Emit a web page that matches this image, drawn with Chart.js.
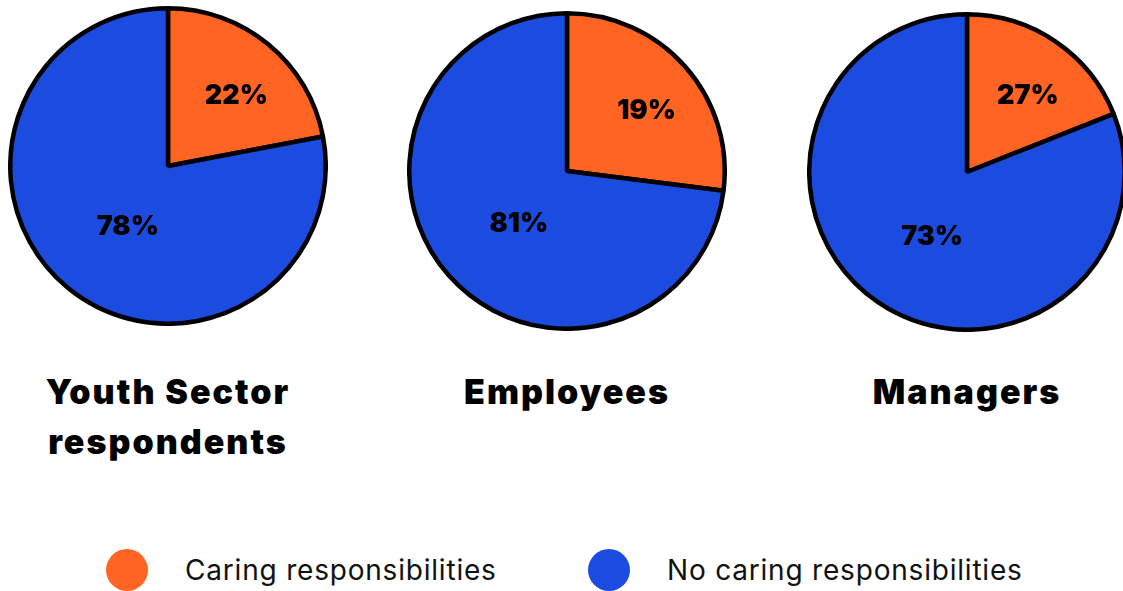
<!DOCTYPE html>
<html>
<head>
<meta charset="utf-8">
<script src="https://cdn.jsdelivr.net/npm/chart.js@4.4.1/dist/chart.umd.min.js"></script>
<style>
  body { margin: 0; width: 1123px; height: 591px; overflow: hidden; background: #fff; position: relative; font-family: Inter, "Noto Sans", sans-serif; }
  canvas.pie { position: absolute; }
  .title { position: absolute; width: 360px; text-align: center; font-weight: 900; font-size: 34px; letter-spacing: 2px; line-height: 50px; color: #000; white-space: pre-line; }
  .legend-item { position: absolute; top: 548px; height: 44px; display: flex; align-items: center; font-size: 28px; letter-spacing: 0.8px; color: #111; }
  .dot { width: 42px; height: 42px; border-radius: 50%; margin-right: 37px; }
</style>
</head>
<body>
<canvas id="pie0" class="pie" width="320" height="320" style="left:8px;top:6px"></canvas>
<canvas id="pie1" class="pie" width="320" height="320" style="left:407px;top:11px"></canvas>
<canvas id="pie2" class="pie" width="320" height="320" style="left:807px;top:12px"></canvas>
<div id="titles"></div>
<div id="legend"></div>
<script>
// Kategorien und Gruppen
const groups = ['Youth Sector\nrespondents', 'Employees', 'Managers'];
const categories = ['Caring responsibilities', 'No caring responsibilities'];
const colors = ['#ff6422', '#1c4be0'];

// Segmentgrößen, so wie sie im Bild gezeichnet sind
const youthShares = [22, 78];
const employeesShares = [27, 73];
const managersShares = [19, 81];

// Beschriftungen, so wie sie im Bild stehen
const youthLabels = ['22%', '78%'];
const employeesLabels = ['19%', '81%'];
const managersLabels = ['27%', '73%'];

const allShares = [youthShares, employeesShares, managersShares];
const allLabels = [youthLabels, employeesLabels, managersLabels];
const centersX = [168, 567, 967];

// Plugin für die Prozentwerte in den Segmenten
const sliceLabels = {
    id: 'sliceLabels',
    afterDatasetsDraw(chart, args, opts) {
        const ctx = chart.ctx;
        const meta = chart.getDatasetMeta(0);
        const factors = [0.63, 0.45];
        ctx.save();
        ctx.font = '900 27px Inter';
        ctx.fillStyle = '#000';
        ctx.textAlign = 'center';
        ctx.textBaseline = 'middle';
        meta.data.forEach((arc, i) => {
            const p = arc.getProps(['x', 'y', 'startAngle', 'endAngle', 'outerRadius'], true);
            const mid = (p.startAngle + p.endAngle) / 2;
            const r = p.outerRadius * factors[i];
            ctx.fillText(opts.texts[i], p.x + Math.cos(mid) * r + 5, p.y + Math.sin(mid) * r + 6);
        });
        ctx.restore();
    }
};

allShares.forEach((shares, k) => {
    new Chart(document.getElementById('pie' + k), {
        type: 'pie',
        data: {
            labels: categories,
            datasets: [{
                data: shares,
                backgroundColor: colors,
                borderColor: '#000',
                borderWidth: 4.5
            }]
        },
        options: {
            responsive: false,
            animation: false,
            layout: { padding: 0 },
            plugins: {
                legend: { display: false },
                tooltip: { enabled: false },
                sliceLabels: { texts: allLabels[k] }
            }
        },
        plugins: [sliceLabels]
    });
});

// Titel unter den Kreisen
const titles = document.getElementById('titles');
groups.forEach((g, k) => {
    const d = document.createElement('div');
    d.className = 'title';
    d.textContent = g;
    d.style.left = (centersX[k] - 180) + 'px';
    d.style.top = '367px';
    titles.appendChild(d);
});

// Legende
const legend = document.getElementById('legend');
const legendX = [106, 588];
categories.forEach((c, i) => {
    const item = document.createElement('div');
    item.className = 'legend-item';
    item.style.left = legendX[i] + 'px';
    item.innerHTML = '<div class="dot" style="background:' + colors[i] + '"></div><span>' + c + '</span>';
    legend.appendChild(item);
});
</script>
</body>
</html>
